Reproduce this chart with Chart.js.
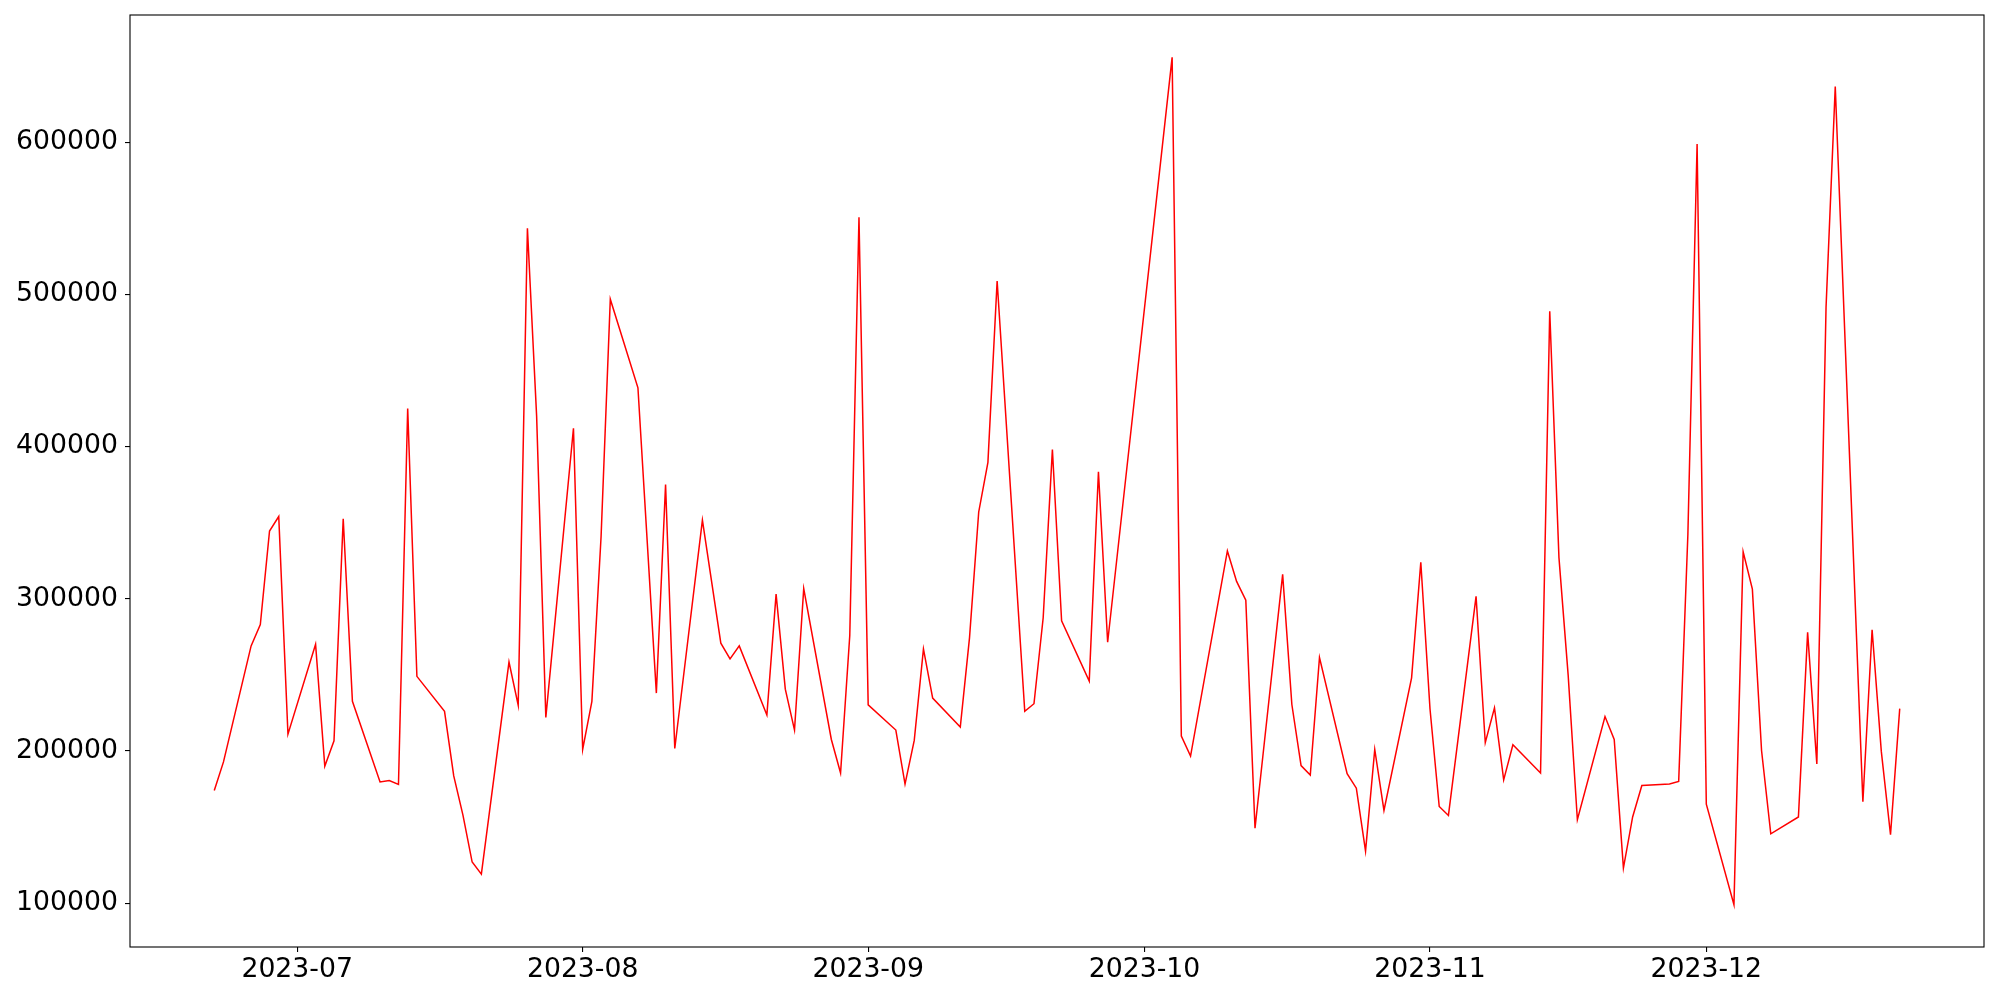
<!DOCTYPE html>
<html>
<head>
<meta charset="utf-8">
<script src="https://cdn.jsdelivr.net/npm/chart.js@4.4.0/dist/chart.umd.min.js"></script>
<style>
  html, body { margin: 0; padding: 0; background: #fff; }
  #wrap { width: 2000px; height: 1000px; }
</style>
</head>
<body>
<div id="wrap"><canvas id="lineChart" width="2000" height="1000"></canvas></div>
<script>
// Data
const dates = [
  '2023-06-22', '2023-06-23', '2023-06-26', '2023-06-27', '2023-06-28', '2023-06-29', '2023-06-30',
  '2023-07-03', '2023-07-04', '2023-07-05', '2023-07-06', '2023-07-07',
  '2023-07-10', '2023-07-11', '2023-07-12', '2023-07-13', '2023-07-14',
  '2023-07-17', '2023-07-18', '2023-07-19', '2023-07-20', '2023-07-21',
  '2023-07-24', '2023-07-25', '2023-07-26', '2023-07-27', '2023-07-28',
  '2023-07-31', '2023-08-01', '2023-08-02', '2023-08-03', '2023-08-04',
  '2023-08-07', '2023-08-09', '2023-08-10', '2023-08-11',
  '2023-08-14', '2023-08-16', '2023-08-17', '2023-08-18',
  '2023-08-21', '2023-08-22', '2023-08-23', '2023-08-24', '2023-08-25',
  '2023-08-28', '2023-08-29', '2023-08-30', '2023-08-31', '2023-09-01',
  '2023-09-04', '2023-09-05', '2023-09-06', '2023-09-07', '2023-09-08',
  '2023-09-11', '2023-09-12', '2023-09-13', '2023-09-14', '2023-09-15',
  '2023-09-18', '2023-09-19', '2023-09-20', '2023-09-21', '2023-09-22',
  '2023-09-25', '2023-09-26', '2023-09-27',
  '2023-10-04', '2023-10-05', '2023-10-06',
  '2023-10-10', '2023-10-11', '2023-10-12', '2023-10-13',
  '2023-10-16', '2023-10-17', '2023-10-18', '2023-10-19', '2023-10-20',
  '2023-10-23', '2023-10-24', '2023-10-25', '2023-10-26', '2023-10-27',
  '2023-10-30', '2023-10-31', '2023-11-01', '2023-11-02', '2023-11-03',
  '2023-11-06', '2023-11-07', '2023-11-08', '2023-11-09', '2023-11-10',
  '2023-11-13', '2023-11-14', '2023-11-15', '2023-11-16', '2023-11-17',
  '2023-11-20', '2023-11-21', '2023-11-22', '2023-11-23', '2023-11-24',
  '2023-11-27', '2023-11-28', '2023-11-29', '2023-11-30', '2023-12-01',
  '2023-12-04', '2023-12-05', '2023-12-06', '2023-12-07', '2023-12-08',
  '2023-12-11', '2023-12-12', '2023-12-13', '2023-12-14', '2023-12-15',
  '2023-12-18', '2023-12-19', '2023-12-20', '2023-12-21', '2023-12-22'
];

const values = [
  174000, 192800, 269000, 283000, 344500, 354000, 211000,
  270000, 190000, 206600, 352600, 232600,
  179600, 180500, 178000, 425000, 249000,
  226000, 183600, 157800, 127000, 119000,
  258400, 230000, 543400, 420000, 222000,
  412000, 201000, 232600, 341000, 496800,
  438600, 238000, 375000, 201600,
  351700, 270800, 260500, 269000,
  223600, 303000, 240600, 213700, 306600,
  207500, 185500, 275800, 550700, 230300,
  213700, 178200, 206900, 267000, 234700,
  215700, 274300, 357000, 389600, 508800,
  226000, 231000, 287500, 398000, 285500,
  245900, 383400, 271400,
  655700, 209700, 196600,
  331400, 311400, 299000, 149200,
  316000, 230500, 190400, 184200, 261400,
  185000, 175500, 134200, 201000, 160900,
  248000, 324000, 227500, 163500, 157600,
  301600, 205400, 228300, 181000, 204000,
  185500, 488900, 327000, 249800, 154800,
  222600, 207500, 123000, 156600, 177300,
  178300, 180000, 342500, 598800, 165000,
  99000, 330800, 306300, 200100, 145500,
  156600, 277900, 191400, 491500, 636600,
  166600, 279600, 199700, 144900, 227800
];

const xTickLabels = ['2023-07', '2023-08', '2023-09', '2023-10', '2023-11', '2023-12'];
const yTickValues = [100000, 200000, 300000, 400000, 500000, 600000];

function toTime(s) {
  const p = s.split('-').map(Number);
  return Date.UTC(p[0], p[1] - 1, p[2] || 1);
}

const points = dates.map((d, i) => ({ x: toTime(d), y: values[i] }));
const xTickValues = xTickLabels.map(toTime);

// matplotlib-like 5% margins
const xs = points.map(p => p.x);
const xMinData = Math.min(...xs), xMaxData = Math.max(...xs);
const xPad = (xMaxData - xMinData) * 0.05;
const yMinData = Math.min(...values), yMaxData = Math.max(...values);
const yPad = (yMaxData - yMinData) * 0.05;

// Full box around the plot area
const frame = {
  id: 'frame',
  afterDraw(chart) {
    const a = chart.chartArea;
    const c = chart.ctx;
    c.save();
    c.strokeStyle = '#000';
    c.lineWidth = 1.1;
    c.strokeRect(a.left, a.top, a.right - a.left, a.bottom - a.top);
    c.restore();
  }
};

const tickFont = { family: 'DejaVu Sans', size: 26.7 };

const ctx = document.getElementById('lineChart').getContext('2d');
new Chart(ctx, {
  type: 'line',
  data: {
    datasets: [{
      data: points,
      borderColor: '#ff0000',
      borderWidth: 1.5,
      pointRadius: 0,
      tension: 0,
      fill: false
    }]
  },
  options: {
    responsive: false,
    animation: false,
    devicePixelRatio: 1,
    layout: { padding: { top: 15, right: 16, left: 0, bottom: 0 } },
    plugins: {
      legend: { display: false },
      tooltip: { enabled: false }
    },
    scales: {
      x: {
        type: 'linear',
        min: xMinData - xPad,
        max: xMaxData + xPad,
        afterBuildTicks: scale => {
          scale.ticks = xTickValues.map(v => ({ value: v }));
        },
        afterFit: scale => {
          scale.height = 53;
          scale.paddingLeft = 0;
          scale.paddingRight = 0;
        },
        ticks: {
          autoSkip: false,
          maxRotation: 0,
          color: '#000',
          font: tickFont,
          padding: 2,
          callback: (v) => {
            const i = xTickValues.indexOf(v);
            return i >= 0 ? xTickLabels[i] : '';
          }
        },
        grid: { drawOnChartArea: false, drawTicks: true, tickLength: 5, color: '#000', lineWidth: 1.1 },
        border: { display: false }
      },
      y: {
        type: 'linear',
        min: yMinData - yPad,
        max: yMaxData + yPad,
        afterBuildTicks: scale => {
          scale.ticks = yTickValues.map(v => ({ value: v }));
        },
        afterFit: scale => {
          scale.width = 130;
          scale.paddingTop = 0;
          scale.paddingBottom = 0;
        },
        ticks: {
          color: '#000',
          font: tickFont,
          padding: 7,
          callback: v => String(v)
        },
        grid: { drawOnChartArea: false, drawTicks: true, tickLength: 5, color: '#000', lineWidth: 1.1 },
        border: { display: false }
      }
    }
  },
  plugins: [frame]
});
</script>
</body>
</html>
